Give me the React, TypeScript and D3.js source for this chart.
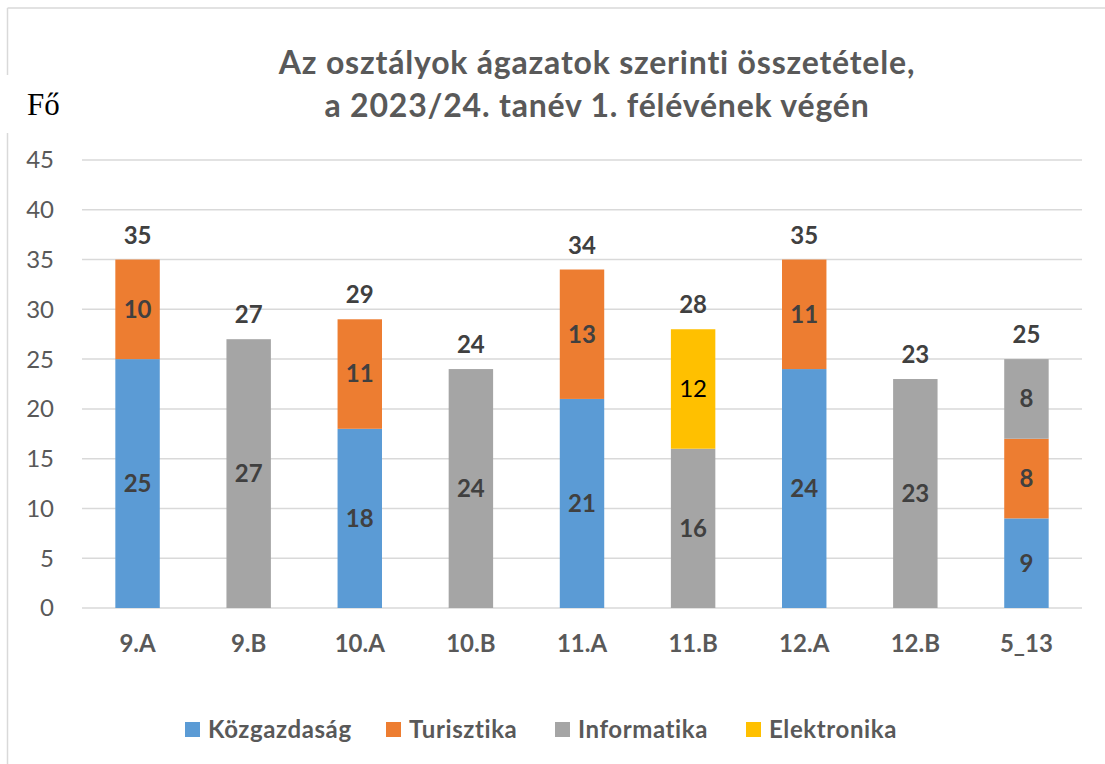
import React from "react";
import * as d3 from "d3";

const categories = ["9.A", "9.B", "10.A", "10.B", "11.A", "11.B", "12.A", "12.B", "5_13"];
const seriesNames = ["Közgazdaság", "Turisztika", "Informatika", "Elektronika"];
const kozgazdasag = [25, 0, 18, 0, 21, 0, 24, 0, 9];
const turisztika = [10, 0, 11, 0, 13, 0, 11, 0, 8];
const informatika = [0, 27, 0, 24, 0, 16, 0, 23, 8];
const elektronika = [0, 0, 0, 0, 0, 12, 0, 0, 0];
const colors = ["#5B9BD5", "#ED7D31", "#A5A5A5", "#FFC000"];
const yTicks = [0, 5, 10, 15, 20, 25, 30, 35, 40, 45];
const titleLines = ["Az osztályok ágazatok szerinti összetétele,", "a 2023/24. tanév 1. félévének végén"];

const W = 1105;
const H = 764;
const FONT = "Lato, 'Open Sans', sans-serif";

export default function App() {
  const rows = categories.map((c, i) => ({
    cat: c,
    "Közgazdaság": kozgazdasag[i],
    Turisztika: turisztika[i],
    Informatika: informatika[i],
    Elektronika: elektronika[i],
  }));
  const stack = d3.stack<any>().keys(seriesNames);
  const layers = stack(rows);

  const x = d3.scaleBand().domain(categories).range([82, 1082]).paddingInner(0.6).paddingOuter(0.3);
  const y = d3.scaleLinear().domain([0, 45]).range([608, 160]);

  const totals = categories.map((_, i) => kozgazdasag[i] + turisztika[i] + informatika[i] + elektronika[i]);

  const legendX = [185, 386, 555, 746];

  return (
    <svg width={W} height={H} style={{ position: "absolute", left: 0, top: 0 }}>
      <rect x={0} y={0} width={W} height={H} fill="#fff" />
      <line x1={7.5} y1={8} x2={7.5} y2={H} stroke="#D9D9D9" strokeWidth={1.5} />
      <line x1={7.5} y1={8} x2={W} y2={8} stroke="#D9D9D9" strokeWidth={1.5} />
      <rect x={0} y={75} width={70} height={58} fill="#fff" />
      <text x={27} y={115} fontFamily="'Liberation Serif', 'Times New Roman', serif" fontSize={31} fill="#000">Fő</text>
      {titleLines.map((t, i) => (
        <text key={i} x={597} y={74 + i * 43} textAnchor="middle" fontFamily={FONT} fontWeight="bold" fontSize={32}
          letterSpacing={0.8} fill="#595959">{t}</text>
      ))}
      {yTicks.map((t) => (
        <g key={t}>
          <line x1={82} x2={1082} y1={y(t)} y2={y(t)} stroke="#D9D9D9" strokeWidth={1.5} />
          <text x={54} y={y(t)} dy="0.35em" textAnchor="end" fontFamily={FONT} fontSize={24} fill="#595959">{t}</text>
        </g>
      ))}
      {layers.map((layer, si) => (
        <g key={layer.key}>
          {layer.map((d: any, i: number) => {
            const v = d[1] - d[0];
            if (v <= 0) return null;
            const bx = x(categories[i])!;
            const bw = x.bandwidth();
            const cy = (y(d[0]) + y(d[1])) / 2;
            const isYellow = si === 3;
            return (
              <g key={i}>
                <rect x={bx} y={y(d[1])} width={bw} height={y(d[0]) - y(d[1])} fill={colors[si]} />
                <text x={bx + bw / 2} y={cy} dy="0.35em" textAnchor="middle" fontFamily={FONT}
                  fontWeight={isYellow ? "normal" : "bold"} fontSize={24} fill={isYellow ? "#000" : "#404040"}>{v}</text>
              </g>
            );
          })}
        </g>
      ))}
      {categories.map((c, i) => (
        <text key={c} x={x(c)! + x.bandwidth() / 2} y={y(totals[i]) - 16} textAnchor="middle" fontFamily={FONT}
          fontWeight="bold" fontSize={24} fill="#404040">{totals[i]}</text>
      ))}
      {categories.map((c) => (
        <text key={c} x={x(c)! + x.bandwidth() / 2} y={652} textAnchor="middle" fontFamily={FONT}
          fontWeight="bold" fontSize={24} fill="#595959">{c}</text>
      ))}
      {seriesNames.map((s, i) => (
        <g key={s}>
          <rect x={legendX[i]} y={722} width={15} height={15} fill={colors[i]} />
          <text x={legendX[i] + 23} y={738} fontFamily={FONT} fontWeight="bold" fontSize={24} letterSpacing={0.6}
            fill="#595959">{s}</text>
        </g>
      ))}
    </svg>
  );
}
